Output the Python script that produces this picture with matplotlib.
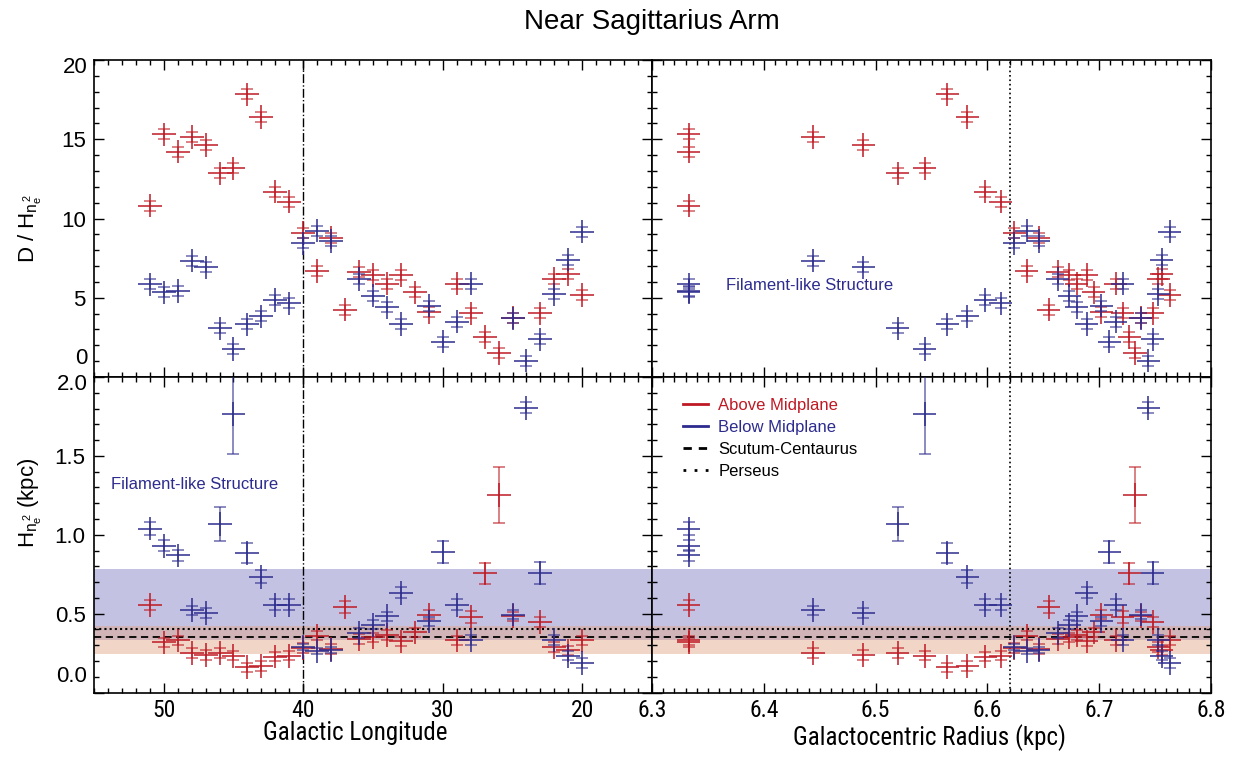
import numpy as np
import matplotlib
matplotlib.use('Agg')
import matplotlib.pyplot as plt
from matplotlib.lines import Line2D
from matplotlib.ticker import MultipleLocator, FixedLocator, FixedFormatter

plt.rcParams['font.family'] = ['Liberation Sans', 'DejaVu Sans']
plt.rcParams['mathtext.fontset'] = 'custom'
plt.rcParams['mathtext.rm'] = 'Liberation Sans'
plt.rcParams['mathtext.it'] = 'Liberation Sans'

RED = '#bf1a24'
BLUE = '#2d2c8e'
NARROW = ['Roboto Condensed', 'Roboto', 'DejaVu Sans']

## data
# above midplane
red_lon = [51, 50, 49, 48, 47, 46, 45, 44, 43, 42, 41, 40, 39, 38, 37,
           36, 35, 34, 33, 32, 31, 29, 28, 27, 26, 25, 23, 22, 21, 20]
red_rad = [6.333, 6.333, 6.333, 6.444, 6.489, 6.520, 6.544, 6.564, 6.582, 6.598,
           6.612, 6.624, 6.635, 6.646, 6.655, 6.663, 6.673, 6.680, 6.689, 6.695,
           6.702, 6.715, 6.721, 6.727, 6.732, 6.737, 6.748, 6.753, 6.756, 6.763]
red_ratio = [10.81, 15.31, 14.22, 15.14, 14.64, 12.85, 13.17, 17.83, 16.40, 11.69,
             11.06, 9.11, 6.69, 8.79, 4.25, 6.65, 6.44, 5.89, 6.44, 5.34,
             4.08, 5.89, 4.02, 2.52, 1.51, 3.74, 4.02, 6.18, 6.48, 5.17]
red_h = [0.555, 0.318, 0.330, 0.250, 0.237, 0.250, 0.233, 0.160, 0.169, 0.228,
         0.233, 0.281, 0.360, 0.275, 0.542, 0.339, 0.349, 0.366, 0.324, 0.381,
         0.494, 0.330, 0.479, 0.755, 1.252, 0.483, 0.447, 0.288, 0.267, 0.330]
red_h_err = [0.03, 0.03, 0.03, 0.03, 0.03, 0.03, 0.03, 0.03, 0.03, 0.03,
             0.03, 0.03, 0.03, 0.03, 0.035, 0.03, 0.03, 0.03, 0.03, 0.03,
             0.03, 0.03, 0.04, 0.067, 0.18, 0.03, 0.03, 0.03, 0.03, 0.03]

# below midplane
blue_lon = [51, 50, 49, 48, 47, 46, 45, 44, 43, 42, 41, 40, 39, 38,
            36, 35, 34, 33, 31, 30, 29, 28, 25, 24, 23, 22, 21, 20]
blue_rad = [6.333, 6.333, 6.333, 6.444, 6.489, 6.520, 6.544, 6.564, 6.582, 6.598,
            6.612, 6.624, 6.635, 6.646, 6.663, 6.673, 6.680, 6.689, 6.702, 6.709,
            6.715, 6.721, 6.737, 6.744, 6.748, 6.753, 6.756, 6.763]
blue_ratio = [5.85, 5.34, 5.43, 7.34, 6.92, 3.07, 1.77, 3.32, 3.83, 4.86,
              4.65, 8.43, 9.23, 8.58, 6.18, 5.13, 4.40, 3.34, 4.50, 2.23,
              3.49, 5.89, 3.70, 1.03, 2.38, 5.22, 7.40, 9.17]
blue_h = [1.039, 0.929, 0.869, 0.521, 0.504, 1.067, 1.765, 0.886, 0.734, 0.555,
          0.555, 0.288, 0.264, 0.271, 0.377, 0.430, 0.483, 0.632, 0.451, 0.891,
          0.555, 0.334, 0.494, 1.804, 0.759, 0.334, 0.233, 0.186]
blue_h_err = [0.04, 0.035, 0.035, 0.03, 0.03, 0.106, 0.255, 0.065, 0.04, 0.035,
              0.035, 0.02, 0.02, 0.02, 0.03, 0.03, 0.03, 0.035, 0.03, 0.067,
              0.035, 0.03, 0.03, 0.035, 0.07, 0.03, 0.03, 0.03]

# error sizes common to all points
lon_err = 0.86
rad_err = 0.0103
ratio_err_outer = 0.74
ratio_err_cap = 0.32
h_err_outer = 0.075

# shaded ranges and arm scale heights
below_band = (0.33, 0.78)
above_band = (0.245, 0.42)
scutum_h = 0.355
perseus_h = 0.405
lon_mark = 40
rad_mark = 6.62


def draw_points(ax, x, y, xerr, yerr_outer, yerr_cap, color):
    ax.errorbar(x, y, xerr=xerr, yerr=yerr_outer, fmt='none', ecolor=color,
                elinewidth=1.1, capsize=0, zorder=3)
    ax.errorbar(x, y, yerr=yerr_cap, fmt='none', ecolor=color, alpha=0.7,
                elinewidth=1.1, capsize=4, capthick=1.1, zorder=3)


def style_axis(ax):
    ax.tick_params(which='both', direction='in', top=True, right=True, width=1)
    ax.tick_params(which='major', length=7)
    ax.tick_params(which='minor', length=3.5)
    for s in ax.spines.values():
        s.set_linewidth(1.2)


fig = plt.figure(figsize=(12.45, 7.62), dpi=100)
L, M, R = 0.0755, 0.5237, 0.9727
B, C, T = 0.0912, 0.5052, 0.9213
ax_tl = fig.add_axes([L, C, M - L, T - C])
ax_tr = fig.add_axes([M, C, R - M, T - C])
ax_bl = fig.add_axes([L, B, M - L, C - B])
ax_br = fig.add_axes([M, B, R - M, C - B])

# top row: D / H
draw_points(ax_tl, red_lon, red_ratio, lon_err, ratio_err_outer, ratio_err_cap, RED)
draw_points(ax_tl, blue_lon, blue_ratio, lon_err, ratio_err_outer, ratio_err_cap, BLUE)
draw_points(ax_tr, red_rad, red_ratio, rad_err, ratio_err_outer, ratio_err_cap, RED)
draw_points(ax_tr, blue_rad, blue_ratio, rad_err, ratio_err_outer, ratio_err_cap, BLUE)

# bottom row: H
for ax, xr, xb, xe in [(ax_bl, red_lon, blue_lon, lon_err), (ax_br, red_rad, blue_rad, rad_err)]:
    ax.axhspan(*below_band, color='#8886c8', alpha=0.5, lw=0, zorder=1)
    ax.axhspan(*above_band, color='#e2a485', alpha=0.45, lw=0, zorder=1)
    ax.axhline(scutum_h, color='black', ls=(0, (4, 2.5)), lw=1.3, zorder=2)
    ax.axhline(perseus_h, color='black', ls=(0, (1, 1.5)), lw=1.5, zorder=2)
    draw_points(ax, xr, red_h, xe, h_err_outer, red_h_err, RED)
    draw_points(ax, xb, blue_h, xe, h_err_outer, blue_h_err, BLUE)

for ax in (ax_tl, ax_bl):
    ax.axvline(lon_mark, color='black', ls='-.', lw=1, zorder=2)
    ax.set_xlim(55, 15)
    ax.xaxis.set_major_locator(MultipleLocator(10))
    ax.xaxis.set_minor_locator(MultipleLocator(1))
for ax in (ax_tr, ax_br):
    ax.axvline(rad_mark, color='black', ls=':', lw=1.2, zorder=2)
    ax.set_xlim(6.3, 6.8)
    ax.xaxis.set_major_locator(MultipleLocator(0.1))
    ax.xaxis.set_minor_locator(MultipleLocator(0.01))

for ax in (ax_tl, ax_tr):
    ax.set_ylim(0, 20)
    ax.yaxis.set_major_locator(FixedLocator([0, 5, 10, 15, 20]))
    ax.yaxis.set_minor_locator(MultipleLocator(1))
    ax.set_xticklabels([])
for ax in (ax_bl, ax_br):
    ax.set_ylim(0, 2.0)
    ax.yaxis.set_major_locator(FixedLocator([0, 0.5, 1.0, 1.5, 2.0]))
    ax.yaxis.set_minor_locator(MultipleLocator(0.1))

for ax in (ax_tl, ax_tr, ax_bl, ax_br):
    style_axis(ax)

ax_tr.set_yticklabels([])
ax_br.set_yticklabels([])
ax_tl.yaxis.set_major_formatter(FixedFormatter(['', '5', '10', '15', '']))
ax_bl.yaxis.set_major_formatter(FixedFormatter(['', '0.5', '1.0', '1.5', '']))
ax_tl.tick_params(axis='y', labelsize=16, pad=6)
ax_bl.tick_params(axis='y', labelsize=16, pad=6)

# end labels sit inside the frame so they don't collide
ytr = ax_tl.get_yaxis_transform()
ax_tl.text(-0.012, 19.5, '20', transform=ytr, ha='right', va='center', fontsize=16)
ax_tl.text(-0.012, 1.15, '0', transform=ytr, ha='right', va='center', fontsize=16)
ytr = ax_bl.get_yaxis_transform()
ax_bl.text(-0.012, 1.955, '2.0', transform=ytr, ha='right', va='center', fontsize=16)
ax_bl.text(-0.012, 0.1, '0.0', transform=ytr, ha='right', va='center', fontsize=16)

for ax in (ax_bl, ax_br):
    for lab in ax.get_xticklabels():
        lab.set_family(NARROW)
        lab.set_stretch('condensed')
        lab.set_fontsize(17)
    ax.tick_params(axis='x', pad=5)

ax_bl.set_xlabel('Galactic Longitude', fontsize=18, family=NARROW, fontstretch='condensed')
ax_bl.xaxis.set_label_coords(0.468, -0.09)
ax_br.set_xlabel('Galactocentric Radius (kpc)', fontsize=18, family=NARROW, fontstretch='condensed')
ax_br.xaxis.set_label_coords(0.497, -0.1)

fig.text(0.024, 0.70, r'D / H$_{n_e^{\,2}}$', rotation=90, ha='center', va='center', fontsize=16)
fig.text(0.024, 0.34, r'H$_{n_e^{\,2}}$ (kpc)', rotation=90, ha='center', va='center', fontsize=16)
fig.text(0.5233, 0.971, 'Near Sagittarius Arm', ha='center', va='center', fontsize=20)

ax_tr.text(6.366, 5.8, 'Filament-like Structure', color=BLUE, fontsize=12, ha='left', va='center')
ax_bl.text(53.8, 1.32, 'Filament-like Structure', color=BLUE, fontsize=12, ha='left', va='center')

handles = [Line2D([], [], color=RED, lw=2),
           Line2D([], [], color=BLUE, lw=2),
           Line2D([], [], color='black', lw=2, ls=(0, (3, 2.5))),
           Line2D([], [], color='black', lw=2, ls=(0, (1, 3)))]
labels = ['Above Midplane', 'Below Midplane', 'Scutum-Centaurus', 'Perseus']
ax_br.legend(handles, labels, loc='upper left', bbox_to_anchor=(0.056, 0.935),
             frameon=False, borderpad=0, borderaxespad=0, handlelength=1.5,
             handletextpad=0.6, labelspacing=0.42, fontsize=12, labelcolor='linecolor')

fig.savefig('out.png', dpi=100)
